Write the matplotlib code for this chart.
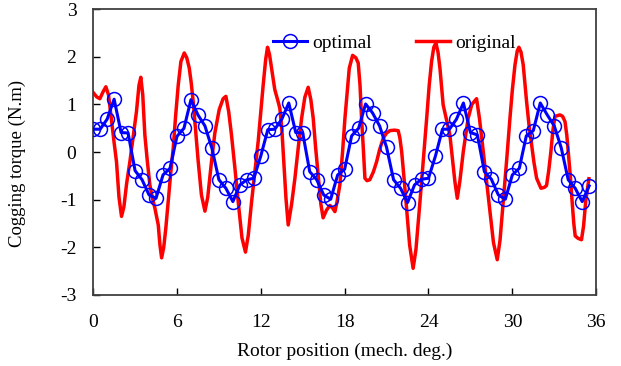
import matplotlib
matplotlib.use("Agg")
import matplotlib.pyplot as plt
import numpy as np

# optimal (blue, sampled every 0.5 deg)
opt_x = [i * 0.5 for i in range(72)]
opt_y = [0.48, 0.48, 0.69, 1.11, 0.41, 0.40, -0.39, -0.58, -0.90, -0.97, -0.48, -0.34,
         0.33, 0.50, 1.10, 0.78, 0.55, 0.08, -0.58, -0.76, -1.04, -0.69, -0.58, -0.55,
         -0.08, 0.47, 0.48, 0.69, 1.03, 0.41, 0.40, -0.41, -0.58, -0.90, -0.99, -0.48,
         -0.36, 0.34, 0.50, 1.01, 0.82, 0.55, 0.10, -0.58, -0.76, -1.06, -0.69, -0.57,
         -0.55, -0.08, 0.48, 0.48, 0.69, 1.03, 0.41, 0.36, -0.41, -0.57, -0.90, -0.99,
         -0.48, -0.34, 0.34, 0.45, 1.03, 0.78, 0.55, 0.09, -0.58, -0.76, -1.04, -0.71]

# original (red)
orig_x = [0.00, 0.25, 0.48, 0.70, 0.91, 1.10, 1.30, 1.50, 1.67, 1.85, 2.03, 2.20, 2.40, 2.63,
          2.85, 3.10, 3.28, 3.41, 3.55, 3.70, 3.88, 4.06, 4.25, 4.42, 4.66, 4.78, 4.90, 5.05,
          5.20, 5.37, 5.55, 5.73, 5.90, 6.09, 6.28, 6.52, 6.70, 6.88, 7.02, 7.16, 7.35, 7.52,
          7.75, 8.00, 8.20, 8.47, 8.71, 9.02, 9.30, 9.50, 9.70, 9.90, 10.15, 10.38, 10.65,
          10.90, 11.10, 11.34, 11.58, 11.81, 12.00, 12.17, 12.35, 12.48, 12.62, 12.77, 13.00,
          13.20, 13.36, 13.50, 13.60, 13.80, 13.96, 14.20, 14.44, 14.70, 14.92, 15.15, 15.39,
          15.58, 15.75, 15.92, 16.10, 16.30, 16.46, 16.70, 16.94, 17.15, 17.30, 17.45, 17.66,
          17.85, 18.02, 18.33, 18.57, 18.80, 18.97, 19.10, 19.21, 19.35, 19.45, 19.60, 19.80,
          20.05, 20.29, 20.50, 20.76, 21.00, 21.24, 21.55, 21.83, 21.95, 22.08, 22.25, 22.43,
          22.65, 22.90, 23.10, 23.39, 23.62, 23.87, 24.05, 24.22, 24.38, 24.53, 24.68, 24.82,
          25.05, 25.20, 25.35, 25.53, 25.70, 25.89, 26.06, 26.25, 26.49, 26.84, 27.10, 27.44,
          27.65, 27.92, 28.15, 28.40, 28.65, 28.92, 29.12, 29.35, 29.60, 29.83, 30.00, 30.19,
          30.35, 30.47, 30.62, 30.78, 31.02, 31.20, 31.38, 31.55, 31.74, 32.05, 32.30, 32.45,
          32.60, 32.76, 32.90, 33.05, 33.41, 33.60, 33.77, 33.90, 34.00, 34.15, 34.28, 34.40,
          34.50, 34.70, 34.95, 35.10, 35.25, 35.48]
orig_y = [1.25, 1.16, 1.12, 1.26, 1.37, 1.20, 0.70, 0.20, -0.20, -0.95, -1.35, -1.15, -0.65, -0.20,
          0.30, 0.85, 1.40, 1.57, 1.20, 0.36, -0.20, -0.69, -0.98, -1.18, -1.53, -1.95, -2.22, -2.00,
          -1.60, -1.04, -0.45, 0.08, 0.75, 1.41, 1.90, 2.08, 1.98, 1.76, 1.45, 1.06, 0.40, -0.20,
          -0.90, -1.24, -0.95, -0.20, 0.40, 0.89, 1.12, 1.17, 0.85, 0.36, -0.35, -1.04, -1.80,
          -2.10, -1.75, -1.04, -0.40, 0.22, 0.85, 1.41, 1.95, 2.20, 2.05, 1.76, 1.31,
          1.10, 0.92, 0.50, 0.01, -0.97, -1.53, -1.10, -0.55, 0.15, 0.71, 1.15, 1.36,
          1.10, 0.71, 0.10, -0.48, -1.10, -1.38, -1.22, -1.12, -1.18, -1.25, -1.05, -0.68,
          0.00, 0.71, 1.76, 2.03, 1.98, 1.87, 1.40, 0.71, 0.00, -0.55, -0.60, -0.58,
          -0.42, -0.20, 0.05, 0.29, 0.40, 0.45, 0.46, 0.45, 0.30, 0.01, -0.55, -1.18,
          -1.95, -2.44, -2.05, -1.04, -0.20, 0.71, 1.40, 1.90, 2.20, 2.29, 2.10, 1.76,
          0.99, 0.80, 0.60, 0.36, -0.10, -0.62, -0.97, -0.60, 0.01, 0.71, 1.00, 1.12,
          0.70, 0.01, -0.60, -1.25, -1.90, -2.26, -1.85, -1.04, -0.15, 0.71, 1.30, 1.83,
          2.12, 2.20, 2.10, 1.83, 1.06, 0.55, 0.15, -0.22, -0.55, -0.76, -0.74, -0.70,
          -0.40, 0.01, 0.45, 0.75, 0.78, 0.75, 0.64, 0.35, 0.01, -0.50, -1.04, -1.50,
          -1.76, -1.81, -1.84, -1.55, -1.04, -0.56]

x_ticks = [0, 6, 12, 18, 24, 30, 36]
y_ticks = [-3, -2, -1, 0, 1, 2, 3]

plt.rcParams['font.family'] = ['Liberation Serif', 'DejaVu Serif']

fig = plt.figure(figsize=(6.21, 3.66), dpi=100)
ax = fig.add_axes([0.150, 0.194, 0.810, 0.781])

ax.plot(orig_x, orig_y, color='#ff0000', lw=2.5, label='original', zorder=2,
        solid_joinstyle='round')
ax.plot(opt_x, opt_y, color='#0000ff', lw=2.2, marker='o', ms=10, mfc='none',
        mec='#0000ff', mew=1.1, label='optimal', zorder=3)

ax.set_xlim(0, 36)
ax.set_ylim(-3, 3)
ax.set_xticks(x_ticks)
ax.set_yticks(y_ticks)
ax.set_xticklabels([str(v) for v in x_ticks])
ax.set_yticklabels([str(v) for v in y_ticks])
ax.tick_params(direction='in', length=5, width=1.0, labelsize=14)
ax.tick_params(axis='x', pad=14)
ax.tick_params(axis='y', pad=12)

for s in ax.spines.values():
    s.set_color('#404040')
    s.set_linewidth(1.3)

ax.set_xlabel('Rotor position (mech. deg.)', fontsize=14, labelpad=8)
ax.set_ylabel('Cogging torque (N.m)', fontsize=13.5)
ax.yaxis.set_label_coords(-0.133, 0.46)

h, l = ax.get_legend_handles_labels()
ax.legend([h[1], h[0]], [l[1], l[0]], loc='center left', ncol=2, frameon=False,
          fontsize=14, bbox_to_anchor=(0.358, 0.882), columnspacing=2.3,
          handlelength=1.75, handletextpad=0.25, borderpad=0, borderaxespad=0)

fig.savefig('out.png', dpi=100)
